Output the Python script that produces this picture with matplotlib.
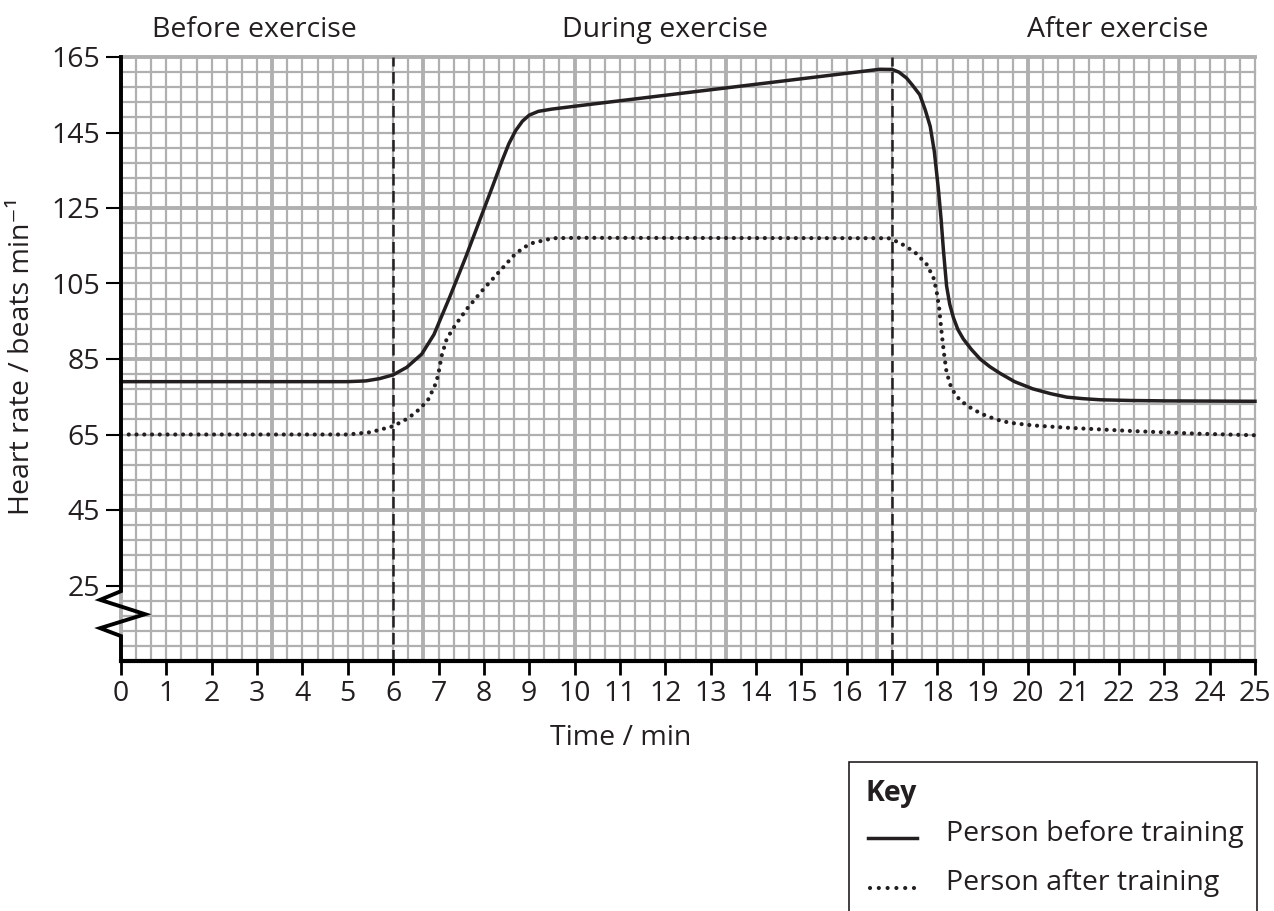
import numpy as np
import matplotlib
matplotlib.use("Agg")
import matplotlib.pyplot as plt
from matplotlib.lines import Line2D
from matplotlib.patches import Rectangle

plt.rcParams['font.family'] = ['Open Sans', 'DejaVu Sans']

# ---------------- data ----------------
time_before = [0, 5.0, 5.4, 5.7, 6.0, 6.3, 6.63, 6.9, 7.25, 7.6, 7.9, 8.2, 8.4, 8.55,
               8.7, 8.85, 9.0, 9.2, 9.5, 10.1, 16.73, 17.0, 17.15, 17.32, 17.45,
               17.61, 17.73, 17.84, 17.93, 18.02, 18.08, 18.13, 18.2, 18.27, 18.35,
               18.45, 18.57, 18.75, 18.94, 19.15, 19.38, 19.7, 20.1, 20.5, 20.85,
               21.2, 21.58, 22.3, 23.05, 25]
hr_before = [79, 79, 79.2, 79.8, 80.8, 82.8, 86.3, 91.5, 101.5, 112, 121.5, 131, 137.5,
             142, 145.5, 148, 149.6, 150.6, 151.2, 152.1, 161.75, 161.7, 161.0, 159.4,
             157.5, 155, 151, 146.6, 140, 130, 122, 114, 104.4, 99.5, 96, 92.8, 90.3,
             87.5, 85, 83, 81.2, 79, 77.1, 75.8, 74.9, 74.5, 74.2, 74, 73.9, 73.8]

time_after = [0, 5.0, 5.5, 6.0, 6.33, 6.59, 6.78, 6.92, 6.99, 7.07, 7.18, 7.36, 7.62,
              7.99, 8.39, 8.65, 8.87, 9.09, 9.53, 10.05, 16.92, 17.17, 17.5, 17.76,
              17.91, 17.98, 18.04, 18.09, 18.14, 18.2, 18.31, 18.5, 18.79, 19.08,
              19.38, 19.6, 20.11, 20.85, 22.32, 23.79, 25]
hr_after = [65, 65, 65.6, 67.2, 69.3, 71.8, 74.4, 78, 80.6, 85.9, 90.3, 93.8, 98.2,
            103.5, 108.8, 112.3, 114.5, 115.8, 117, 117.1, 117, 115.8, 113.3, 110.1,
            106.6, 103, 98.2, 92.1, 86.8, 81.5, 77.1, 74, 71.6, 69.9, 68.7, 68.1,
            67.4, 66.8, 65.9, 65.2, 64.8]

x_ticks = list(range(0, 26))
y_ticks = [25, 45, 65, 85, 105, 125, 145, 165]
phase_bounds = [6, 17]
phase_labels = ["Before exercise", "During exercise", "After exercise"]
phase_label_x = [2.95, 12.0, 21.98]
series_labels = ["Person before training", "Person after training"]

# ---------------- figure ----------------
W, H = 1274, 911
fig = plt.figure(figsize=(W / 100, H / 100), dpi=100)
ax = fig.add_axes([121 / W, 1 - 661 / H, (1255 - 121) / W, (661 - 57) / H])
ax.set_xlim(0, 25)
ax.set_ylim(5, 165)

ink = '#231f20'
grid_color = '#b0b0b0'
FS = 20.5

# graph-paper grid
for i, xv in enumerate(np.arange(76) / 3):
    ax.axvline(xv, color=grid_color, lw=2.8 if i % 10 == 0 else 1.6, zorder=0,
               clip_on=False)
for i, yv in enumerate(5 + 4 * np.arange(41)):
    ax.axhline(yv, color=grid_color, lw=2.8 if i % 10 == 0 else 1.6, zorder=0,
               clip_on=False)

# phase boundaries
for xb in phase_bounds:
    ax.axvline(xb, color=ink, lw=1.8, ls=(0, (4.6, 2.2)), zorder=2)

# curves
ax.plot(time_before, hr_before, color=ink, lw=2.5, zorder=3,
        solid_joinstyle='round', clip_on=False)
ax.plot(time_after, hr_after, color=ink, lw=3.0, ls=(0, (0.01, 1.85)),
        dash_capstyle='round', zorder=3, clip_on=False)

# axes / spines
for s in ['top', 'right', 'left']:
    ax.spines[s].set_visible(False)
ax.spines['bottom'].set_linewidth(3)
ax.spines['bottom'].set_color('black')
ax.spines['bottom'].set_zorder(4)
# left spine with axis break zig-zag
ax.plot([0, 0, -0.46, 0.53, -0.46, 0, 0], [165, 23.5, 21.2, 17.4, 13.7, 11.6, 5],
        color='black', lw=2.8, clip_on=False, zorder=5, solid_joinstyle='miter')

ax.set_xticks(x_ticks)
ax.set_yticks(y_ticks)
ax.tick_params(axis='x', length=10, width=2, color='black', pad=4, labelsize=FS,
               labelcolor=ink)
ax.tick_params(axis='y', length=11, width=1.5, color='black', pad=4, labelsize=FS,
               labelcolor=ink)

# phase labels
for lab, xl in zip(phase_labels, phase_label_x):
    ax.text(xl, 1 + 27 / 604, lab, transform=ax.get_xaxis_transform(),
            ha='center', va='center', fontsize=FS, color=ink)

fig.text(621 / W, 1 - 738 / H, "Time / min", ha='center', va='center',
         fontsize=FS, color=ink)
fig.text(22 / W, 1 - 356 / H, "Heart rate / beats min\u207b\u00b9", ha='center',
         va='center', rotation=90, fontsize=FS, color=ink)

# key box
def fx(px):
    return px / W

def fy(py):
    return 1 - py / H

fig.add_artist(Rectangle((fx(849), fy(930)), fx(1257) - fx(849), fy(762) - fy(930),
                         transform=fig.transFigure, fill=False, ec=ink, lw=1.2))
fig.text(fx(866), fy(793), "Key", fontweight='bold', fontsize=FS, color=ink,
         ha='left', va='center')
fig.add_artist(Line2D([fx(868), fx(917)], [fy(838), fy(838)], color=ink, lw=2.5,
                      transform=fig.transFigure))
fig.add_artist(Line2D([fx(870), fx(914)], [fy(888), fy(888)], color=ink, lw=3.0,
                      ls=(0, (0.01, 2.1)), dash_capstyle='round',
                      transform=fig.transFigure))
fig.text(fx(946), fy(834), series_labels[0], fontsize=FS, color=ink,
         ha='left', va='center')
fig.text(fx(946), fy(883), series_labels[1], fontsize=FS, color=ink,
         ha='left', va='center')

fig.savefig("out.png", dpi=100)
